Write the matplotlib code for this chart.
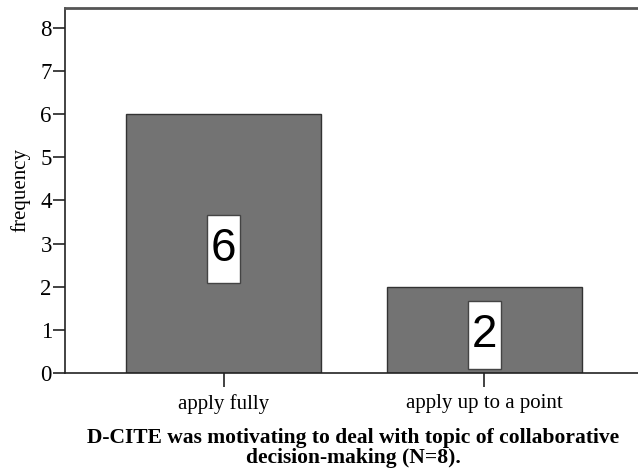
import matplotlib
matplotlib.use('Agg')
import matplotlib.pyplot as plt
from matplotlib.patches import Rectangle
import numpy as np

categories = ['apply fully', 'apply up to a point']
counts = [6, 2]
y_ticks = [0, 1, 2, 3, 4, 5, 6, 7, 8]
title = 'D-CITE was motivating to deal with topic of collaborative\ndecision-making (N=8).'

serif = 'Liberation Serif'
sans = 'Liberation Sans'

fig = plt.figure(figsize=(6.38, 4.70), dpi=100)
ax = fig.add_axes([65 / 638, 1 - 373 / 470, 1 - 65 / 638, (373 - 8) / 470])

x = np.arange(len(categories))
ax.bar(x, counts, width=0.75, color='#737373', edgecolor='#333333', linewidth=1.0)

# white label boxes in the middle of each bar
box_w, box_h = 0.128, 1.58
for xi, c in zip(x, counts):
    yc = c / 2 - 0.12
    ax.add_patch(Rectangle((xi - box_w / 2, yc - box_h / 2), box_w, box_h,
                           facecolor='white', edgecolor='#444444', linewidth=1.0, zorder=3))
    ax.text(xi, yc, str(c), ha='center', va='center', fontsize=33,
            family=sans, color='black', zorder=4)

ax.set_xlim(-0.609, 1.59)
ax.set_ylim(0, 8.46)
ax.set_yticks(y_ticks)
ax.set_xticks(x)
ax.set_xticklabels(categories, family=serif, fontsize=15)
ax.set_yticklabels([str(t) for t in y_ticks], family=serif, fontsize=16.5)
ax.tick_params(axis='y', direction='out', length=9, width=1.2, pad=0.5, color='#222222')
ax.tick_params(axis='x', direction='out', length=10, width=1.2, pad=5, color='#222222')

ax.spines['right'].set_visible(False)
for s in ['left', 'bottom']:
    ax.spines[s].set_linewidth(1.2)
    ax.spines[s].set_color('#222222')
ax.spines['top'].set_linewidth(2.0)
ax.spines['top'].set_color('#555555')

ax.set_ylabel('frequency', family=serif, fontsize=15, labelpad=7)

fig.text(353 / 638, 1 - 448 / 470, title, ha='center', va='center',
         family=serif, fontsize=15.5, fontweight='bold', linespacing=0.95)

fig.savefig('out.png', dpi=100)
